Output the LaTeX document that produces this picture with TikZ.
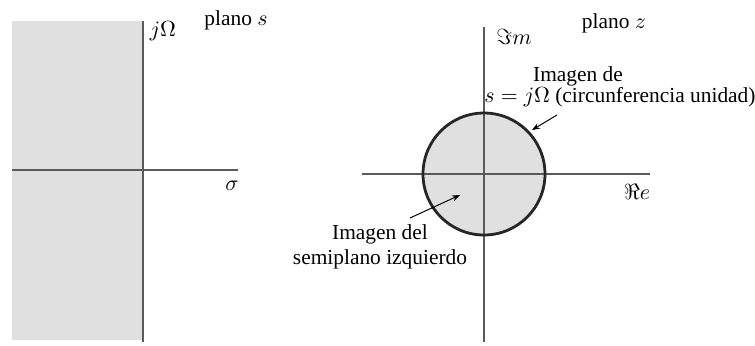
\documentclass[tikz,border=0pt]{standalone}
\usepackage{fontspec}
\setmainfont{Liberation Serif}
\usetikzlibrary{arrows.meta}

\begin{document}
\begin{tikzpicture}[
    x=0.5pt, y=-0.5pt,
    axis/.style={draw=black!65, line width=0.8pt},
    shade/.style={fill=gray!24},
    lbl/.style={font=\fontsize{10.7}{12.5}\selectfont, inner sep=0pt, align=center},
    arr/.style={-{Stealth[length=4pt, width=3pt]}, line width=0.5pt}
]
    \useasboundingbox (0,0) rectangle (755,345);

    % plano s
    \fill[shade] (12,21) rectangle (143,340);
    \draw[axis] (12,170) -- (238,170);
    \draw[axis] (143,21) -- (143,342);
    \node[lbl] (jw) at (163,31) {$j\Omega$};
    \node[lbl] (pls) at (236,20) {plano $s$};
    \node[lbl] (sig) at (232,186) {$\sigma$};

    % plano z
    \coordinate (zO) at (484,174);
    \fill[shade] (zO) circle (61);
    \draw[axis] (362,174) -- (650,174);
    \draw[axis] (484,27) -- (484,342);
    \draw[line width=1.4pt, black!85] (zO) circle (61);
    \node[lbl] (imz) at (514,37) {$\Im m$};
    \node[lbl] (plz) at (614,23) {plano $z$};
    \node[lbl] (rez) at (637,192) {$\Re e$};

    \node[lbl] (cu1) at (578,76) {Imagen de};
    \node[lbl] (cu2) at (620,97) {$s=j\Omega$ (circunferencia unidad)};
    \node[lbl] (semi) at (380,247) {Imagen del\\semiplano izquierdo};

    \coordinate (a1) at (557,115);
    \coordinate (c1) at (532,130);
    \coordinate (a2) at (410,218);
    \coordinate (c2) at (460,195);
    \draw[arr] (a1) -- (c1);
    \draw[arr] (a2) -- (c2);
\end{tikzpicture}
\end{document}
